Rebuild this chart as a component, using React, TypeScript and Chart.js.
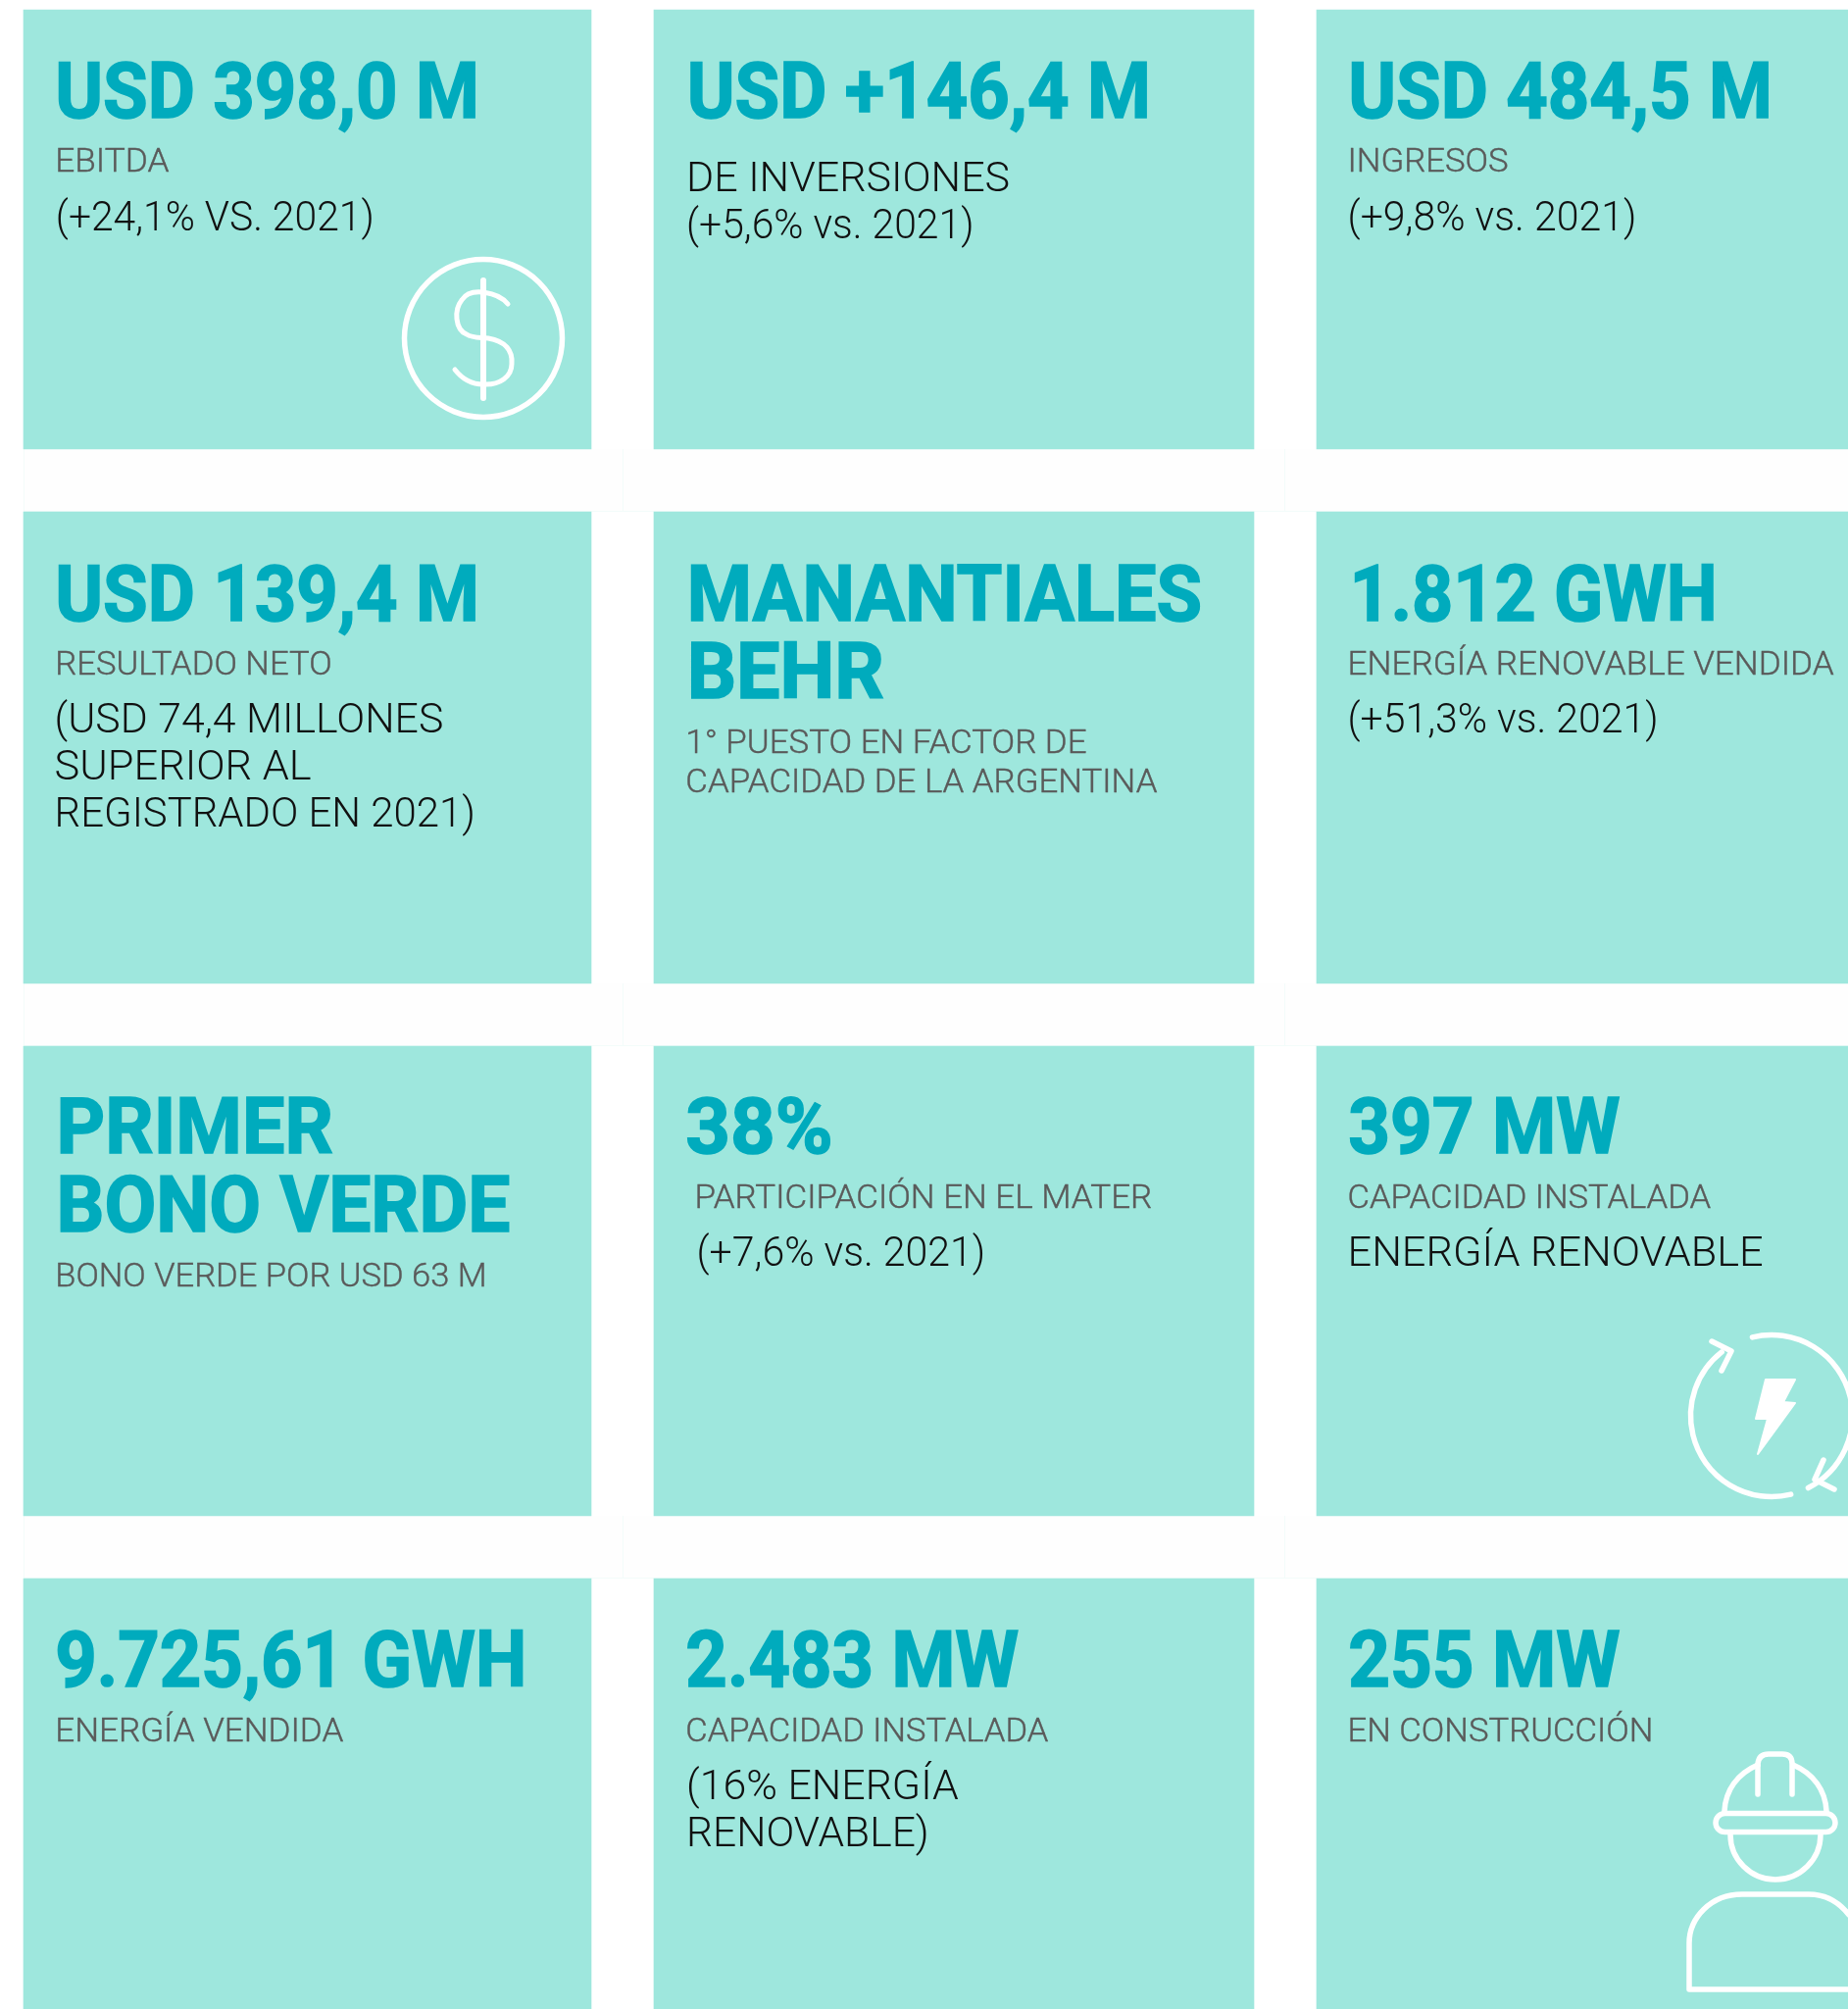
import React, { useEffect, useRef } from "react";
import { Chart, registerables } from "chart.js";

Chart.register(...registerables);

const WIDTH = 1885;
const HEIGHT = 2049;
const S = 1885 / 1442; // the text boxes below were read on the 1442 px wide view

// Cards: one floating bar per card, one dataset per column
const columnNames = ["Columna 1", "Columna 2", "Columna 3"];
const columnEdges = [[24, 603], [667, 1279], [1343, 1885]];
const rowEdges = [[10, 458], [522, 1003], [1067, 1546], [1610, 2049]];

const headlines = [
  "USD 398,0 M", "USD +146,4 M", "USD 484,5 M",
  "USD 139,4 M", "MANANTIALES", "BEHR", "1.812 GWH",
  "PRIMER", "BONO VERDE", "38%", "397 MW",
  "9.725,61 GWH", "2.483 MW", "255 MW",
];
const headlineBoxes = [
  [43, 374, 92], [536, 898, 92], [1052, 1383, 92],
  [43, 374, 484], [536, 938, 484], [536, 690, 545], [1053, 1340, 484],
  [44, 260, 900], [44, 398, 960.5], [535, 650, 900], [1052, 1264, 900],
  [43, 411, 1316], [535, 795, 1316], [1052, 1264, 1316],
];

const labels = [
  "EBITDA", "INGRESOS",
  "RESULTADO NETO", "1° PUESTO EN FACTOR DE", "CAPACIDAD DE LA ARGENTINA", "ENERGÍA RENOVABLE VENDIDA",
  "BONO VERDE POR USD 63 M", "PARTICIPACIÓN EN EL MATER", "CAPACIDAD INSTALADA",
  "ENERGÍA VENDIDA", "CAPACIDAD INSTALADA", "EN CONSTRUCCIÓN",
];
const labelBoxes = [
  [43, 132, 134], [1051.5, 1177, 134],
  [43, 259, 526], [535, 848, 587.5], [535, 903, 618], [1051.5, 1431, 526],
  [43, 380, 1003.5], [542, 899, 942.5], [1051.5, 1335, 942.5],
  [43, 268, 1358.5], [535, 818, 1358.5], [1051.5, 1290, 1358.5],
];

const notes = [
  "(+24,1% VS. 2021)", "DE INVERSIONES", "(+5,6% vs. 2021)", "(+9,8% vs. 2021)",
  "(USD 74,4 MILLONES", "SUPERIOR AL", "REGISTRADO EN 2021)", "(+51,3% vs. 2021)",
  "(+7,6% vs. 2021)", "ENERGÍA RENOVABLE",
  "(16% ENERGÍA", "RENOVABLE)",
];
const noteBoxes = [
  [43.5, 292, 180], [535.5, 788, 149], [535.5, 760, 186], [1051.5, 1277, 180],
  [42.5, 346, 571.5], [42.5, 243, 608], [42.5, 371, 645], [1051.5, 1294, 571.5],
  [543.5, 769, 987.5], [1051.5, 1376, 987.5],
  [535.5, 748, 1403.5], [535.5, 725, 1440.5],
];

const CARD = "#9ee7dd";
const HEAD = "#00abbd";
const LABEL = "#5a5a5a";
const NOTE = "#111111";
const FAINT = "#f3fcfa";
const GAP = "#fefefe";

function fitText(ctx: CanvasRenderingContext2D, text: string, x0: number, x1: number, base: number, font: string, color: string, embolden = 0) {
  ctx.save();
  ctx.font = font;
  ctx.fillStyle = color;
  ctx.strokeStyle = color;
  ctx.textBaseline = "alphabetic";
  ctx.textAlign = "left";
  const w = ctx.measureText(text).width;
  ctx.translate(x0, base);
  ctx.scale((x1 - x0) / w, 1);
  if (embolden > 0) {
    ctx.lineWidth = embolden;
    ctx.lineJoin = "miter";
    ctx.strokeText(text, 0, 0);
  }
  ctx.fillText(text, 0, 0);
  ctx.restore();
}

function drawIcons(ctx: CanvasRenderingContext2D) {
  ctx.save();
  ctx.strokeStyle = "#ffffff";
  ctx.fillStyle = "#ffffff";
  ctx.lineCap = "round";
  ctx.lineJoin = "round";

  // dollar
  ctx.lineWidth = 5.5;
  ctx.beginPath();
  ctx.arc(493, 345, 80.5, 0, Math.PI * 2);
  ctx.stroke();
  ctx.lineWidth = 6;
  ctx.beginPath();
  ctx.moveTo(493, 286);
  ctx.lineTo(493, 406);
  ctx.stroke();
  ctx.lineWidth = 5;
  ctx.beginPath();
  ctx.moveTo(518, 310);
  ctx.bezierCurveTo(508, 298, 480, 292, 471, 306);
  ctx.bezierCurveTo(463, 316, 464, 336, 476, 341);
  ctx.bezierCurveTo(482, 345, 490, 344, 498, 345);
  ctx.bezierCurveTo(516, 348, 523, 358, 522, 371);
  ctx.bezierCurveTo(522, 384, 510, 393, 493, 392);
  ctx.bezierCurveTo(480, 392, 471, 386, 464, 377);
  ctx.stroke();

  // renewable energy
  ctx.lineWidth = 5.5;
  const cx = 1807, cy = 1444, r = 82.5;
  ctx.beginPath();
  ctx.arc(cx, cy, r, -1.81, 1.1);
  ctx.stroke();
  ctx.beginPath();
  ctx.arc(cx, cy, r, 1.33, 4.05);
  ctx.stroke();
  ctx.beginPath();
  ctx.moveTo(1746, 1368); ctx.lineTo(1766, 1378); ctx.lineTo(1756, 1398);
  ctx.stroke();
  ctx.beginPath();
  ctx.moveTo(1860, 1489); ctx.lineTo(1851, 1509); ctx.lineTo(1871, 1519);
  ctx.stroke();
  ctx.lineWidth = 2;
  ctx.beginPath();
  ctx.moveTo(1801, 1407); ctx.lineTo(1831, 1407); ctx.lineTo(1819, 1430);
  ctx.lineTo(1831, 1431); ctx.lineTo(1793, 1483); ctx.lineTo(1803, 1447);
  ctx.lineTo(1791, 1447); ctx.closePath();
  ctx.fill();
  ctx.stroke();

  // worker
  ctx.lineWidth = 5.5;
  ctx.beginPath();
  ctx.roundRect(1750, 1849.5, 122, 19, 9.5);
  ctx.stroke();
  ctx.beginPath();
  ctx.moveTo(1759, 1847);
  ctx.bezierCurveTo(1760, 1826, 1772, 1809, 1793, 1800);
  ctx.stroke();
  ctx.beginPath();
  ctx.moveTo(1863, 1847);
  ctx.bezierCurveTo(1862, 1826, 1850, 1809, 1829, 1800);
  ctx.stroke();
  ctx.beginPath();
  ctx.moveTo(1793, 1830); ctx.lineTo(1793, 1799);
  ctx.quadraticCurveTo(1794, 1789, 1804, 1789);
  ctx.lineTo(1818, 1789);
  ctx.quadraticCurveTo(1828, 1789, 1828, 1799);
  ctx.lineTo(1828, 1830);
  ctx.stroke();
  ctx.beginPath();
  ctx.arc(1811, 1871, 46, 0, Math.PI);
  ctx.stroke();
  ctx.beginPath();
  ctx.moveTo(1886, 1953);
  ctx.bezierCurveTo(1875, 1939, 1860, 1932, 1845, 1932);
  ctx.lineTo(1777, 1932);
  ctx.bezierCurveTo(1745, 1932, 1723, 1956, 1723, 1982);
  ctx.lineTo(1723, 2029);
  ctx.lineTo(1886, 2029);
  ctx.stroke();
  ctx.restore();
}

const cardsPlugin = {
  id: "cards",
  beforeDatasetsDraw(chart: any) {
    const { ctx, scales } = chart;
    const px = (v: number) => scales.x.getPixelForValue(v);
    const py = (v: number) => scales.y.getPixelForValue(v);
    ctx.save();
    ctx.fillStyle = GAP;
    ctx.strokeStyle = FAINT;
    ctx.lineWidth = 1;
    for (let i = 0; i < rowEdges.length - 1; i++) {
      const top = rowEdges[i][1];
      const bottom = rowEdges[i + 1][0];
      ctx.fillRect(px(24), py(top), px(WIDTH) - px(24), py(bottom) - py(top));
      ctx.beginPath();
      [24, 635, 1310].forEach((x) => {
        ctx.moveTo(px(x) + 0.5, py(top));
        ctx.lineTo(px(x) + 0.5, py(bottom));
      });
      ctx.moveTo(px(24), py(bottom) - 0.5);
      ctx.lineTo(px(WIDTH), py(bottom) - 0.5);
      ctx.stroke();
    }
    ctx.restore();
  },
  afterDatasetsDraw(chart: any) {
    const { ctx, scales } = chart;
    const px = (v: number) => scales.x.getPixelForValue(v * S);
    const py = (v: number) => scales.y.getPixelForValue(v * S);
    headlines.forEach((t, i) => {
      const [a, b, c] = headlineBoxes[i];
      fitText(ctx, t, px(a), px(b), py(c), "700 80px Roboto", HEAD, 1.6);
    });
    labels.forEach((t, i) => {
      const [a, b, c] = labelBoxes[i];
      fitText(ctx, t, px(a), px(b), py(c), "300 34px Roboto", LABEL, 0.4);
    });
    notes.forEach((t, i) => {
      const [a, b, c] = noteBoxes[i];
      fitText(ctx, t, px(a), px(b), py(c), "300 42px Roboto", NOTE);
    });
    drawIcons(ctx);
  },
};

export default function App() {
  const ref = useRef<HTMLCanvasElement>(null);
  useEffect(() => {
    const chart = new Chart(ref.current as HTMLCanvasElement, {
      type: "bar",
      data: {
        datasets: columnNames.map((name, c) => ({
          label: name,
          data: rowEdges.map((row) => ({
            x: (columnEdges[c][0] + columnEdges[c][1]) / 2,
            y: row,
          })),
          backgroundColor: CARD,
          barThickness: columnEdges[c][1] - columnEdges[c][0],
          grouped: false,
          borderWidth: 0,
        })),
      } as any,
      options: {
        animation: false,
        responsive: false,
        layout: { padding: 0 },
        plugins: { legend: { display: false }, tooltip: { enabled: false } },
        scales: {
          x: { type: "linear", min: 0, max: WIDTH, display: false, offset: false },
          y: { type: "linear", min: 0, max: HEIGHT, reverse: true, display: false },
        },
      } as any,
      plugins: [cardsPlugin],
    });
    return () => chart.destroy();
  }, []);
  return (
    <div style={{ position: "absolute", left: 0, top: 0, width: WIDTH, height: HEIGHT, overflow: "hidden", background: "#fff" }}>
      <canvas ref={ref} width={WIDTH} height={HEIGHT} style={{ display: "block" }} />
    </div>
  );
}
